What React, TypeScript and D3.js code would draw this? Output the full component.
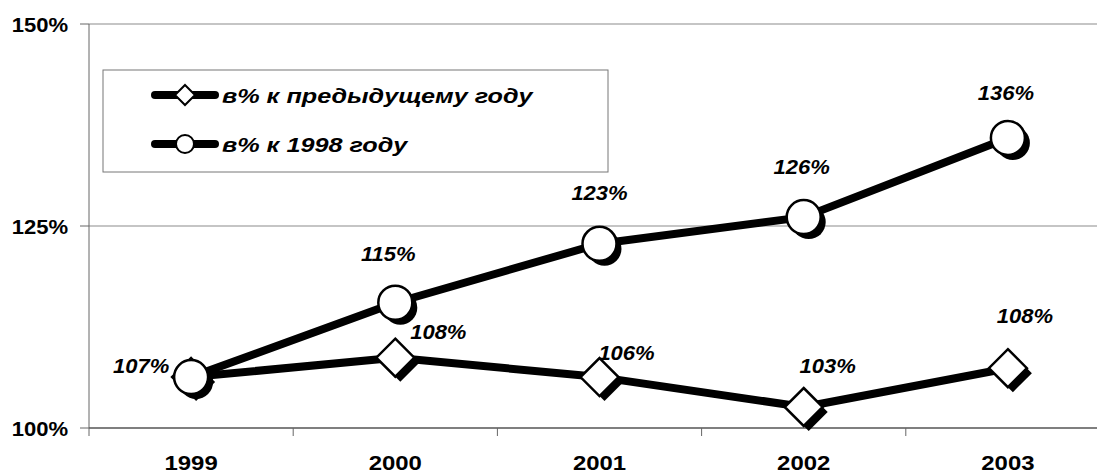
import React from "react";
import * as d3 from "d3";

const years = ["1999", "2000", "2001", "2002", "2003"];
const prevYearValues = [106.3, 108.7, 106.3, 102.6, 107.4];
const base1998Values = [106.3, 115.5, 122.8, 126.1, 135.9];
const prevYearLabels = ["107%", "108%", "106%", "103%", "108%"];
const base1998Labels = ["", "115%", "123%", "126%", "136%"];
const yTicks = [100, 125, 150];
const legendNames = ["в% к предыдущему году", "в% к 1998 году"];

// label offsets (dx, dy of text baseline) relative to each marker
const prevLabelOffsets = [[-50, -4], [43, -19], [27, -17], [24, -34], [17, -45]];
const baseLabelOffsets = [[0, 0], [-7, -42], [0, -44], [-2, -43], [-2, -38]];

const W = 1097;
const H = 475;
const left = 89;
const top = 24;
const bottom = 428;
const right = 1110;
const font = "'Liberation Sans', Arial, sans-serif";

// text drawn a bit wider than the font, like the original picture
const Wide = ({ x, y, sx, anchor, size, italic, children }: any) => (
  <g transform={`translate(${x},${y}) scale(${sx},1)`}>
    <text
      textAnchor={anchor}
      fontFamily={font}
      fontWeight="bold"
      fontStyle={italic ? "italic" : "normal"}
      fontSize={size}
    >
      {children}
    </text>
  </g>
);

const App = () => {
  const x = d3.scaleBand().domain(years).range([left, right]);
  const y = d3.scaleLinear().domain([100, 150]).range([bottom, top]);
  const cx = (yr: string) => (x(yr) as number) + x.bandwidth() / 2;

  const line = d3
    .line<number>()
    .x((_, i) => cx(years[i]))
    .y((v) => y(v));

  const diamond = (px: number, py: number, s: number) =>
    `M${px},${py - s}L${px + s},${py}L${px},${py + s}L${px - s},${py}Z`;

  const shadow = 5;

  return (
    <svg width={W} height={H} style={{ position: "absolute", left: 0, top: 0 }}>
      <rect width={W} height={H} fill="#fff" />
      {/* grid */}
      {yTicks.map((t) => (
        <g key={t}>
          {t !== 100 && (
            <line x1={left} x2={right} y1={y(t)} y2={y(t)} stroke="#8c8c8c" strokeWidth={1.2} />
          )}
          <line x1={left - 9} x2={left} y1={y(t)} y2={y(t)} stroke="#666" />
          <Wide x={68} y={y(t) + 8} sx={1.05} anchor="end" size={21}>
            {t}%
          </Wide>
        </g>
      ))}
      {/* axes */}
      <line x1={left} x2={left} y1={top} y2={bottom} stroke="#666" />
      <line x1={left} x2={right} y1={bottom} y2={bottom} stroke="#555" strokeWidth={1.3} />
      {years.map((yr) => (
        <g key={yr}>
          <line
            x1={x(yr) as number}
            x2={x(yr) as number}
            y1={bottom}
            y2={bottom + 8}
            stroke="#666"
          />
          <Wide x={cx(yr)} y={470} sx={1.14} anchor="middle" size={21}>
            {yr}
          </Wide>
        </g>
      ))}

      {/* lines */}
      <path d={line(prevYearValues) || ""} fill="none" stroke="#000" strokeWidth={8} strokeLinejoin="round" />
      <path d={line(base1998Values) || ""} fill="none" stroke="#000" strokeWidth={8} strokeLinejoin="round" />

      {/* markers */}
      {prevYearValues.map((v, i) => {
        const px = cx(years[i]);
        const py = y(v);
        return (
          <g key={"d" + i}>
            <path d={diamond(px + shadow, py + shadow, 19)} fill="#000" />
            <path d={diamond(px, py, 19)} fill="#fff" stroke="#000" strokeWidth={2.5} />
          </g>
        );
      })}
      {base1998Values.map((v, i) => {
        const px = cx(years[i]);
        const py = y(v);
        return (
          <g key={"c" + i}>
            <circle cx={px + shadow} cy={py + shadow} r={17} fill="#000" />
            <circle cx={px} cy={py} r={17} fill="#fff" stroke="#000" strokeWidth={2.5} />
          </g>
        );
      })}

      {/* data labels */}
      {prevYearValues.map((v, i) => (
        <Wide
          key={"pl" + i}
          x={cx(years[i]) + prevLabelOffsets[i][0]}
          y={y(v) + prevLabelOffsets[i][1]}
          sx={1.1}
          anchor="middle"
          size={20}
          italic
        >
          {prevYearLabels[i]}
        </Wide>
      ))}
      {base1998Values.map((v, i) =>
        base1998Labels[i] ? (
          <Wide
            key={"bl" + i}
            x={cx(years[i]) + baseLabelOffsets[i][0]}
            y={y(v) + baseLabelOffsets[i][1]}
            sx={1.1}
            anchor="middle"
            size={20}
            italic
          >
            {base1998Labels[i]}
          </Wide>
        ) : null
      )}

      {/* legend */}
      <rect x={103} y={70} width={505} height={102} fill="#fff" stroke="#777" strokeWidth={1} />
      {legendNames.map((name, i) => {
        const ly = 95 + i * 49;
        return (
          <g key={name}>
            <line x1={155} x2={215} y1={ly} y2={ly} stroke="#000" strokeWidth={8} strokeLinecap="round" />
            {i === 0 ? (
              <path d={diamond(185, ly, 10)} fill="#fff" stroke="#000" strokeWidth={2} />
            ) : (
              <circle cx={185} cy={ly} r={9} fill="#fff" stroke="#000" strokeWidth={2} />
            )}
            <Wide x={222} y={ly + 8} sx={1.2} anchor="start" size={21} italic>
              {name}
            </Wide>
          </g>
        );
      })}
    </svg>
  );
};

export default App;
